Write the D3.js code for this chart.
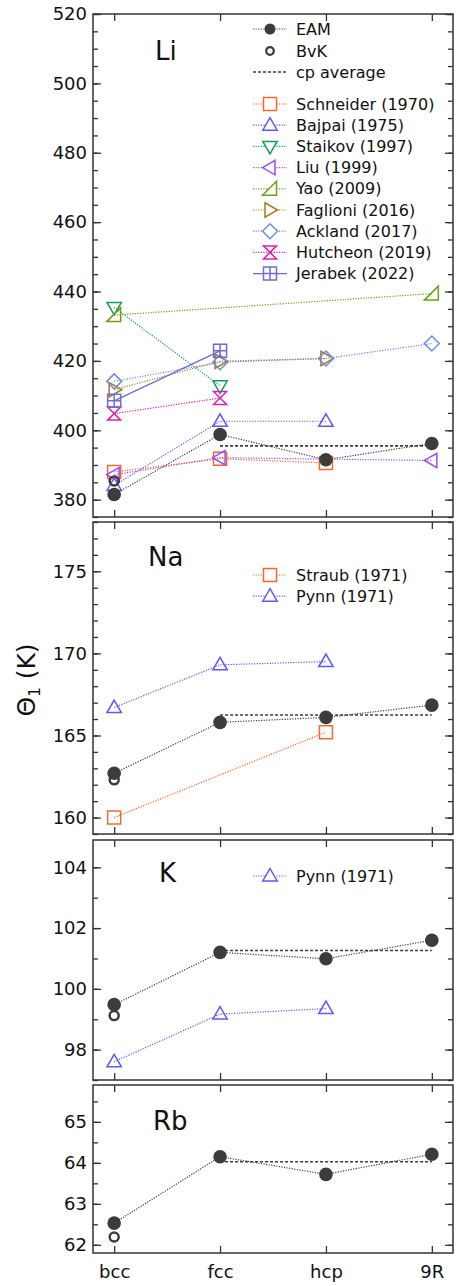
<!DOCTYPE html>
<html>
<head>
<meta charset="utf-8">
<script src="https://cdn.jsdelivr.net/npm/d3@7"></script>
<style>
  body { margin: 0; background: #fff; }
  svg { display: block; font-family: "DejaVu Sans", sans-serif; }
</style>
</head>
<body>
<div id="chart"></div>
<script>
// phases along x
const phases = ["bcc", "fcc", "hcp", "9R"];

// Li, Theta_1 in K (null = not reported)
const liEAM = [381.5, 398.8, 391.5, 396.2];
const liBvK = [385.4, null, null, null];
const liSchneider = [388.0, 391.8, 390.6, null];
const liBajpai = [384.1, 402.6, 402.6, null];
const liStaikov = [435.4, 412.8, null, null];
const liLiu = [387.2, 392.1, null, 391.3];
const liYao = [433.2, null, null, 439.4];
const liFaglioni = [411.7, 419.9, 420.7, null];
const liAckland = [414.1, 419.6, 420.7, 425.0];
const liHutcheon = [404.8, 409.3, null, null];
const liJerabek = [408.5, 422.9, null, null];

// Na
const naEAM = [162.7, 165.8, 166.1, 166.85];
const naBvK = [162.3, null, null, null];
const naStraub = [160.0, null, 165.2, null];
const naPynn = [166.7, 169.3, 169.5, null];

// K
const kEAM = [99.48, 101.2, 100.99, 101.6];
const kBvK = [99.12, null, null, null];
const kPynn = [97.6, 99.17, 99.35, null];

// Rb
const rbEAM = [62.53, 64.15, 63.72, 64.21];
const rbBvK = [62.19, null, null, null];

const width = 459, height = 1286;
const left = 93, right = 453;

const svg = d3.select("#chart").append("svg")
    .attr("width", width)
    .attr("height", height);

const x = d3.scalePoint().domain(phases).range([left, right]).padding(0.2);

// marker shapes, centred on the point
const shapes = {
    square: "M-6.5,-6.5H6.5V6.5H-6.5Z",
    triUp: "M0,-7.5L7.2,5L-7.2,5Z",
    triDown: "M0,7.5L7.2,-5L-7.2,-5Z",
    triLeft: "M-7.5,0L5,-7.2L5,7.2Z",
    triRight: "M7.5,0L-5,-7.2L-5,7.2Z",
    wedge: "M6.5,-7.5V6.5H-7.5Z",
    diamond: "M0,-7.5L7.5,0L0,7.5L-7.5,0Z",
    hourglass: "M-6.5,-6.5H6.5L-6.5,6.5H6.5Z",
    boxPlus: "M-6.5,-6.5H6.5V6.5H-6.5ZM0,-6.5V6.5M-6.5,0H6.5"
};

const ref = (label, values, color, shape, solid) => ({ label, values, color, shape, solid });

const panels = [
    {
        name: "Li", top: 14, bottom: 517, domain: [375, 520], major: 20, minor: 5,
        nameAt: [155, 60], eam: liEAM, bvk: liBvK, showKey: true,
        refs: [
            ref("Schneider (1970)", liSchneider, "#f4692a", "square"),
            ref("Bajpai (1975)", liBajpai, "#5b5bff", "triUp"),
            ref("Staikov (1997)", liStaikov, "#12a055", "triDown"),
            ref("Liu (1999)", liLiu, "#9b4ff0", "triLeft"),
            ref("Yao (2009)", liYao, "#6c9e1c", "wedge"),
            ref("Faglioni (2016)", liFaglioni, "#a87a1e", "triRight"),
            ref("Ackland (2017)", liAckland, "#6b8fe0", "diamond"),
            ref("Hutcheon (2019)", liHutcheon, "#e01fae", "hourglass"),
            ref("Jerabek (2022)", liJerabek, "#6c6cd2", "boxPlus", true)
        ],
        legendY: 104
    },
    {
        name: "Na", top: 522, bottom: 834, domain: [159, 178], major: 5, minor: 1,
        nameAt: [148, 566], eam: naEAM, bvk: naBvK,
        refs: [
            ref("Straub (1971)", naStraub, "#f4692a", "square"),
            ref("Pynn (1971)", naPynn, "#5b5bff", "triUp")
        ],
        legendY: 575
    },
    {
        name: "K", top: 840, bottom: 1080, domain: [97, 104.9], major: 2, minor: 1,
        nameAt: [159, 882], eam: kEAM, bvk: kBvK,
        refs: [ref("Pynn (1971)", kPynn, "#5b5bff", "triUp")],
        legendY: 876
    },
    {
        name: "Rb", top: 1085, bottom: 1253, domain: [61.8, 65.9], major: 1, minor: 0.5,
        nameAt: [153, 1130], eam: rbEAM, bvk: rbBvK, refs: [], xLabels: true
    }
];

const dark = "#3c3c3c";
const dotted = "1.2,1.4";
const legendX0 = 253, legendX1 = 287, legendMark = 270, legendText = 296, legendStep = 21.2;

const pointsOf = values => phases.map((p, i) => ({ p, v: values[i] })).filter(d => d.v != null);

panels.forEach(panel => {
    const y = d3.scaleLinear().domain(panel.domain).range([panel.bottom, panel.top]);
    const g = svg.append("g");
    const [lo, hi] = panel.domain;
    const majors = d3.range(Math.ceil(lo / panel.major) * panel.major, hi + 1e-9, panel.major);
    const minors = d3.range(Math.ceil(lo / panel.minor) * panel.minor, hi + 1e-9, panel.minor);

    // ticks pointing inward on all four sides
    const axes = [
        [d3.axisLeft(y).tickValues(minors).tickSize(-5).tickFormat(""), left, 0],
        [d3.axisRight(y).tickValues(minors).tickSize(-5).tickFormat(""), right, 0],
        [d3.axisLeft(y).tickValues(majors).tickSize(-8).tickPadding(6).tickFormat(d3.format("d")), left, 0],
        [d3.axisRight(y).tickValues(majors).tickSize(-8).tickFormat(""), right, 0],
        [d3.axisTop(x).tickSize(-7).tickFormat(""), 0, panel.top],
        [d3.axisBottom(x).tickSize(-7).tickPadding(12).tickFormat(panel.xLabels ? null : ""), 0, panel.bottom]
    ];
    axes.forEach(([axis, tx, ty]) => {
        const a = g.append("g").attr("transform", `translate(${tx},${ty})`).call(axis);
        a.select(".domain").remove();
        a.selectAll("line").attr("stroke", "#333").attr("stroke-width", 1.3);
        a.selectAll("text").attr("font-size", 18).attr("fill", "#111")
            .attr("font-family", "DejaVu Sans, sans-serif");
    });

    g.append("rect")
        .attr("x", left).attr("y", panel.top)
        .attr("width", right - left).attr("height", panel.bottom - panel.top)
        .attr("fill", "none").attr("stroke", "#333").attr("stroke-width", 1.5);

    g.append("text")
        .attr("x", panel.nameAt[0]).attr("y", panel.nameAt[1])
        .attr("font-size", 26).attr("fill", "#111")
        .text(panel.name);

    const line = d3.line().x(d => x(d.p)).y(d => y(d.v));

    // literature values
    panel.refs.forEach(s => {
        const pts = pointsOf(s.values);
        g.append("path").datum(pts)
            .attr("d", line)
            .attr("fill", "none").attr("stroke", s.color)
            .attr("stroke-width", s.solid ? 1.3 : 1.2)
            .attr("stroke-dasharray", s.solid ? null : dotted);
        g.selectAll(null).data(pts).join("path")
            .attr("transform", d => `translate(${x(d.p)},${y(d.v)})`)
            .attr("d", shapes[s.shape])
            .attr("fill", "none").attr("stroke", s.color).attr("stroke-width", 1.5);
    });

    // cp average over fcc, hcp and 9R
    const cp = d3.mean(panel.eam.slice(1));
    g.append("line")
        .attr("x1", x("fcc")).attr("x2", x("9R"))
        .attr("y1", y(cp)).attr("y2", y(cp))
        .attr("stroke", dark).attr("stroke-width", 1.6).attr("stroke-dasharray", "3,2");

    // EAM and BvK
    const eamPts = pointsOf(panel.eam);
    g.append("path").datum(eamPts)
        .attr("d", line)
        .attr("fill", "none").attr("stroke", dark)
        .attr("stroke-width", 1.2).attr("stroke-dasharray", dotted);
    g.selectAll(null).data(pointsOf(panel.bvk)).join("circle")
        .attr("cx", d => x(d.p)).attr("cy", d => y(d.v)).attr("r", 4.5)
        .attr("fill", "none").attr("stroke", dark).attr("stroke-width", 2.5);
    g.selectAll(null).data(eamPts).join("circle")
        .attr("cx", d => x(d.p)).attr("cy", d => y(d.v)).attr("r", 6.8)
        .attr("fill", dark);

    // key
    const key = g.append("g").attr("font-size", 16).attr("fill", "#111");
    if (panel.showKey) {
        const ky = [29, 51, 72];
        key.append("line").attr("x1", legendX0).attr("x2", legendX1).attr("y1", ky[0]).attr("y2", ky[0])
            .attr("stroke", dark).attr("stroke-width", 1.2).attr("stroke-dasharray", dotted);
        key.append("circle").attr("cx", legendMark).attr("cy", ky[0]).attr("r", 5.5).attr("fill", dark);
        key.append("circle").attr("cx", legendMark).attr("cy", ky[1]).attr("r", 3.8)
            .attr("fill", "none").attr("stroke", dark).attr("stroke-width", 2.3);
        key.append("line").attr("x1", legendX0).attr("x2", legendX1).attr("y1", ky[2]).attr("y2", ky[2])
            .attr("stroke", dark).attr("stroke-width", 1.4).attr("stroke-dasharray", "3,2");
        ["EAM", "BvK", "cp average"].forEach((t, i) => {
            key.append("text").attr("x", legendText).attr("y", ky[i]).attr("dy", "0.35em").text(t);
        });
    }
    panel.refs.forEach((s, i) => {
        const ry = panel.legendY + i * legendStep;
        key.append("line").attr("x1", legendX0).attr("x2", legendX1).attr("y1", ry).attr("y2", ry)
            .attr("stroke", s.color).attr("stroke-width", s.solid ? 1.3 : 1.2)
            .attr("stroke-dasharray", s.solid ? null : dotted);
        key.append("path").attr("transform", `translate(${legendMark},${ry})`)
            .attr("d", shapes[s.shape])
            .attr("fill", "#fff").attr("stroke", s.color).attr("stroke-width", 1.5);
        key.append("text").attr("x", legendText).attr("y", ry).attr("dy", "0.35em").text(s.label);
    });
});

// shared y title
const title = svg.append("text")
    .attr("transform", "translate(35,680) rotate(-90)")
    .attr("text-anchor", "middle")
    .attr("font-size", 25).attr("fill", "#111");
title.append("tspan").text("\u0398");
title.append("tspan").attr("font-size", 15).attr("dy", 5).text("1");
title.append("tspan").attr("dy", -5).text(" (K)");
</script>
</body>
</html>
